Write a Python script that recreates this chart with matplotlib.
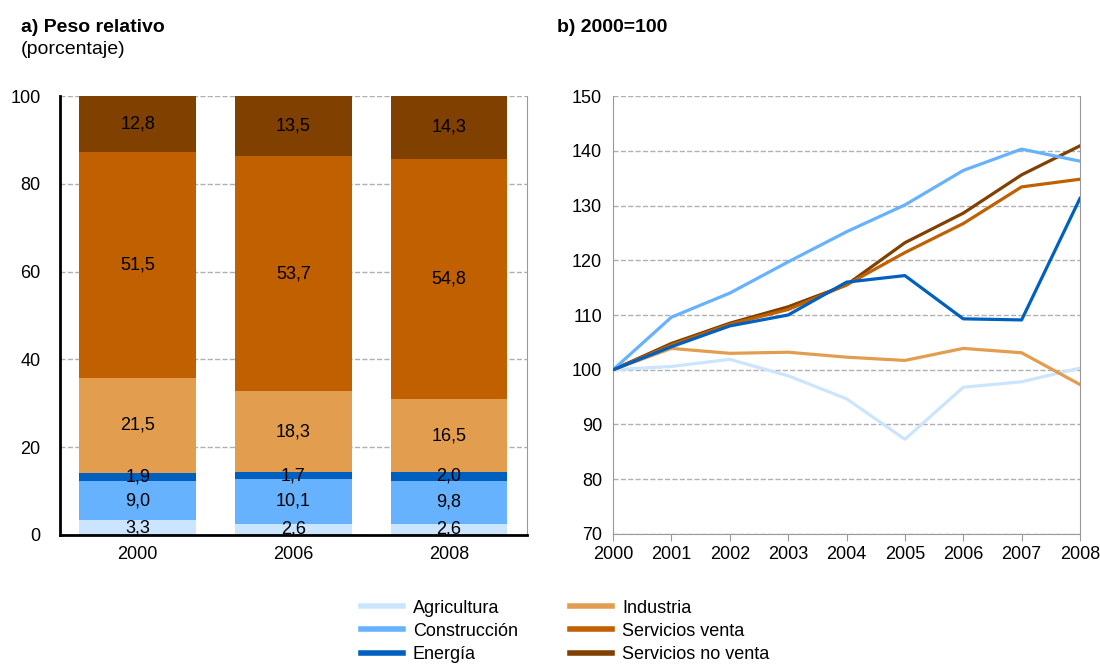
import matplotlib.pyplot as plt
from matplotlib.lines import Line2D
import numpy as np

plt.rcParams['font.family'] = ['Liberation Sans', 'DejaVu Sans']

sectores = ['Agricultura', 'Construcción', 'Energía', 'Industria',
            'Servicios venta', 'Servicios no venta']
colores = ['#CCE5FF', '#66B2FF', '#0060C0', '#E29E4E', '#C06000', '#804000']

# a) peso relativo (porcentaje)
anios_bar = ['2000', '2006', '2008']
peso = {
    'Agricultura':        [3.3, 2.6, 2.6],
    'Construcción':       [9.0, 10.1, 9.8],
    'Energía':            [1.9, 1.7, 2.0],
    'Industria':          [21.5, 18.3, 16.5],
    'Servicios venta':    [51.5, 53.7, 54.8],
    'Servicios no venta': [12.8, 13.5, 14.3],
}

# b) indice 2000=100
anios = [2000, 2001, 2002, 2003, 2004, 2005, 2006, 2007, 2008]
indice = {
    'Agricultura':        [100, 100.6, 101.9, 98.9, 94.7, 87.3, 96.8, 97.8, 100.3],
    'Industria':          [100, 103.9, 103.0, 103.2, 102.3, 101.7, 103.9, 103.1, 97.3],
    'Servicios no venta': [100, 104.8, 108.5, 111.5, 115.5, 123.2, 128.6, 135.6, 140.9],
    'Servicios venta':    [100, 104.5, 108.3, 111.0, 115.5, 121.4, 126.7, 133.4, 134.8],
    'Construcción':       [100, 109.6, 114.0, 119.7, 125.2, 130.1, 136.4, 140.3, 138.1],
    'Energía':            [100, 104.2, 108.0, 110.0, 116.0, 117.2, 109.3, 109.1, 131.3],
}
col = dict(zip(sectores, colores))

fig = plt.figure(figsize=(11, 6.64), dpi=100)
fs = 13
fs_tit = 14

#%% a) barras apiladas
ax1 = fig.add_axes([0.0545, 0.1943, 0.4245, 0.6611])
x = np.arange(len(anios_bar))
base = np.zeros(len(anios_bar))
for s in sectores:
    v = np.array(peso[s])
    ax1.bar(x, v, bottom=base, width=0.75, color=col[s], zorder=2)
    for i in range(len(x)):
        ax1.text(x[i], base[i] + v[i] / 2, f'{v[i]:.1f}'.replace('.', ','),
                 ha='center', va='center', fontsize=fs, zorder=3)
    base += v
ax1.set_xlim(-0.5, 2.5)
ax1.set_ylim(0, 100)
ax1.set_yticks(range(0, 101, 20))
ax1.set_xticks(x, anios_bar)
ax1.tick_params(length=0, labelsize=fs, pad=8)
ax1.tick_params(axis='y', pad=14)
ax1.grid(axis='y', ls='--', color='#b0b0b0', lw=1, zorder=0)
ax1.spines['top'].set_visible(False)
ax1.spines['left'].set_linewidth(2)
ax1.spines['bottom'].set_linewidth(2)
ax1.spines['right'].set_color('#999999')

fig.text(0.019, 0.959, 'a) Peso relativo', fontsize=fs_tit, fontweight='bold', va='center')
fig.text(0.019, 0.926, '(porcentaje)', fontsize=fs_tit, va='center')

#%% b) lineas
ax2 = fig.add_axes([0.5573, 0.1958, 0.4245, 0.6596])
for s in ['Agricultura', 'Industria', 'Servicios no venta', 'Servicios venta',
          'Construcción', 'Energía']:
    ax2.plot(anios, indice[s], color=col[s], lw=2.3, zorder=3)
ax2.set_xlim(2000, 2008)
ax2.set_ylim(70, 150)
ax2.set_xticks(anios)
ax2.set_yticks(range(70, 151, 10))
ax2.tick_params(labelsize=fs)
ax2.tick_params(axis='y', length=0, pad=8)
ax2.tick_params(axis='x', length=5, color='#999999', pad=4)
ax2.grid(axis='y', ls='--', color='#b0b0b0', lw=1, zorder=0)
for sp in ax2.spines.values():
    sp.set_color('#999999')
ax2.spines['top'].set_visible(False)

fig.text(0.506, 0.959, 'b) 2000=100', fontsize=fs_tit, fontweight='bold', va='center')

#%% leyenda
handles = [Line2D([0], [0], color=col[s], lw=4) for s in sectores]
fig.legend(handles, sectores, ncol=2, loc='upper left', bbox_to_anchor=(0.328, 0.097),
           frameon=False, fontsize=fs, handlelength=2.33, handletextpad=0.55,
           columnspacing=2.9, labelspacing=0.34, borderpad=0, borderaxespad=0)

plt.savefig('out.png', dpi=100)
